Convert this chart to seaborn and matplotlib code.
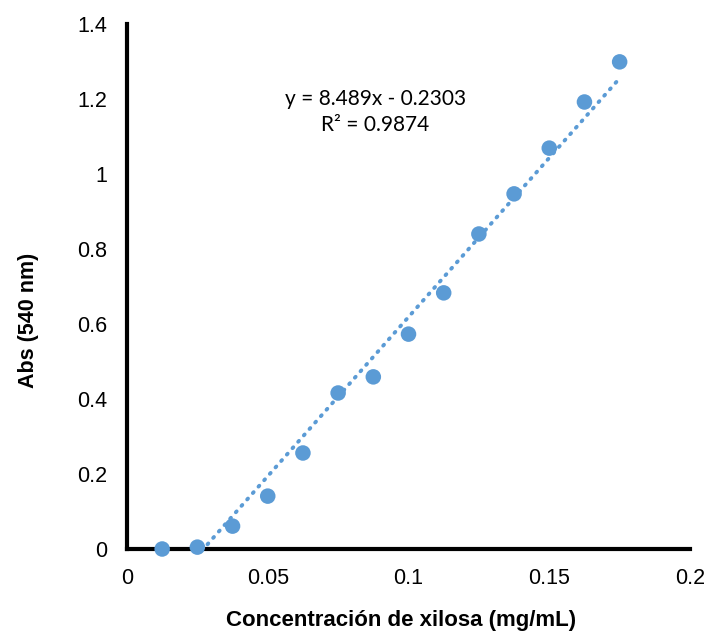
import matplotlib
matplotlib.use("Agg")
import matplotlib.pyplot as plt
import seaborn as sns
import numpy as np
import pandas as pd

# data
conc = [0.0125, 0.025, 0.0375, 0.05, 0.0625, 0.075, 0.0875, 0.1, 0.1125, 0.125, 0.1375, 0.15, 0.1625, 0.175]
absorb = [0.0, 0.005, 0.061, 0.141, 0.256, 0.416, 0.459, 0.573, 0.683, 0.840, 0.947, 1.069, 1.192, 1.299]
slope = 8.489
intercept = -0.2303
r2 = 0.9874
xticks = [0, 0.05, 0.1, 0.15, 0.2]
xtick_labels = ["0", "0.05", "0.1", "0.15", "0.2"]
yticks = [0, 0.2, 0.4, 0.6, 0.8, 1.0, 1.2, 1.4]
ytick_labels = ["0", "0.2", "0.4", "0.6", "0.8", "1", "1.2", "1.4"]

sns.set_theme(style="white")
plt.rcParams["font.family"] = ["Liberation Sans", "DejaVu Sans"]
plt.rcParams["text.color"] = "black"
plt.rcParams["axes.labelcolor"] = "black"

blue = "#5B9BD5"
fig = plt.figure(figsize=(7.11, 6.33), dpi=100)
ax = fig.add_axes([0.1786, 0.1327, 0.9705 - 0.1786, 0.9621 - 0.1327])

df = pd.DataFrame({"x": conc, "y": absorb})
fit_x = np.array([min(conc), max(conc)])
fit_df = pd.DataFrame({"x": fit_x, "y": slope * fit_x + intercept})

sns.lineplot(data=fit_df, x="x", y="y", ax=ax, color=blue, linewidth=2.8,
             linestyle=(0, (0.3, 1.9)), dash_capstyle="round", zorder=2)
sns.scatterplot(data=df, x="x", y="y", ax=ax, color=blue, s=125,
                edgecolor="none", zorder=3, clip_on=False)

ax.set_xlim(0, 0.2)
ax.set_ylim(0, 1.4)
ax.set_xticks(xticks)
ax.set_xticklabels(xtick_labels)
ax.set_yticks(yticks)
ax.set_yticklabels(ytick_labels)
ax.tick_params(axis="both", length=0, labelsize=15.5, colors="black")
ax.tick_params(axis="x", pad=14)
ax.tick_params(axis="y", pad=14)

for s in ["top", "right"]:
    ax.spines[s].set_visible(False)
for s in ["left", "bottom"]:
    ax.spines[s].set_color("black")
    ax.spines[s].set_linewidth(3)

ax.set_xlabel("Concentración de xilosa (mg/mL)", fontsize=16, fontweight="bold",
              labelpad=15, x=0.487, color="black")
ax.set_ylabel("Abs (540 nm)", fontsize=15.5, fontweight="bold", labelpad=28, y=0.436,
              color="black")

ax.text(0.0883, 1.165, f"y = {slope}x - {abs(intercept)}\nR² = {r2}", ha="center", va="center",
        fontsize=15, family=["Lato", "DejaVu Sans"], linespacing=1.4, color="black")

fig.savefig("out.png", dpi=100)
